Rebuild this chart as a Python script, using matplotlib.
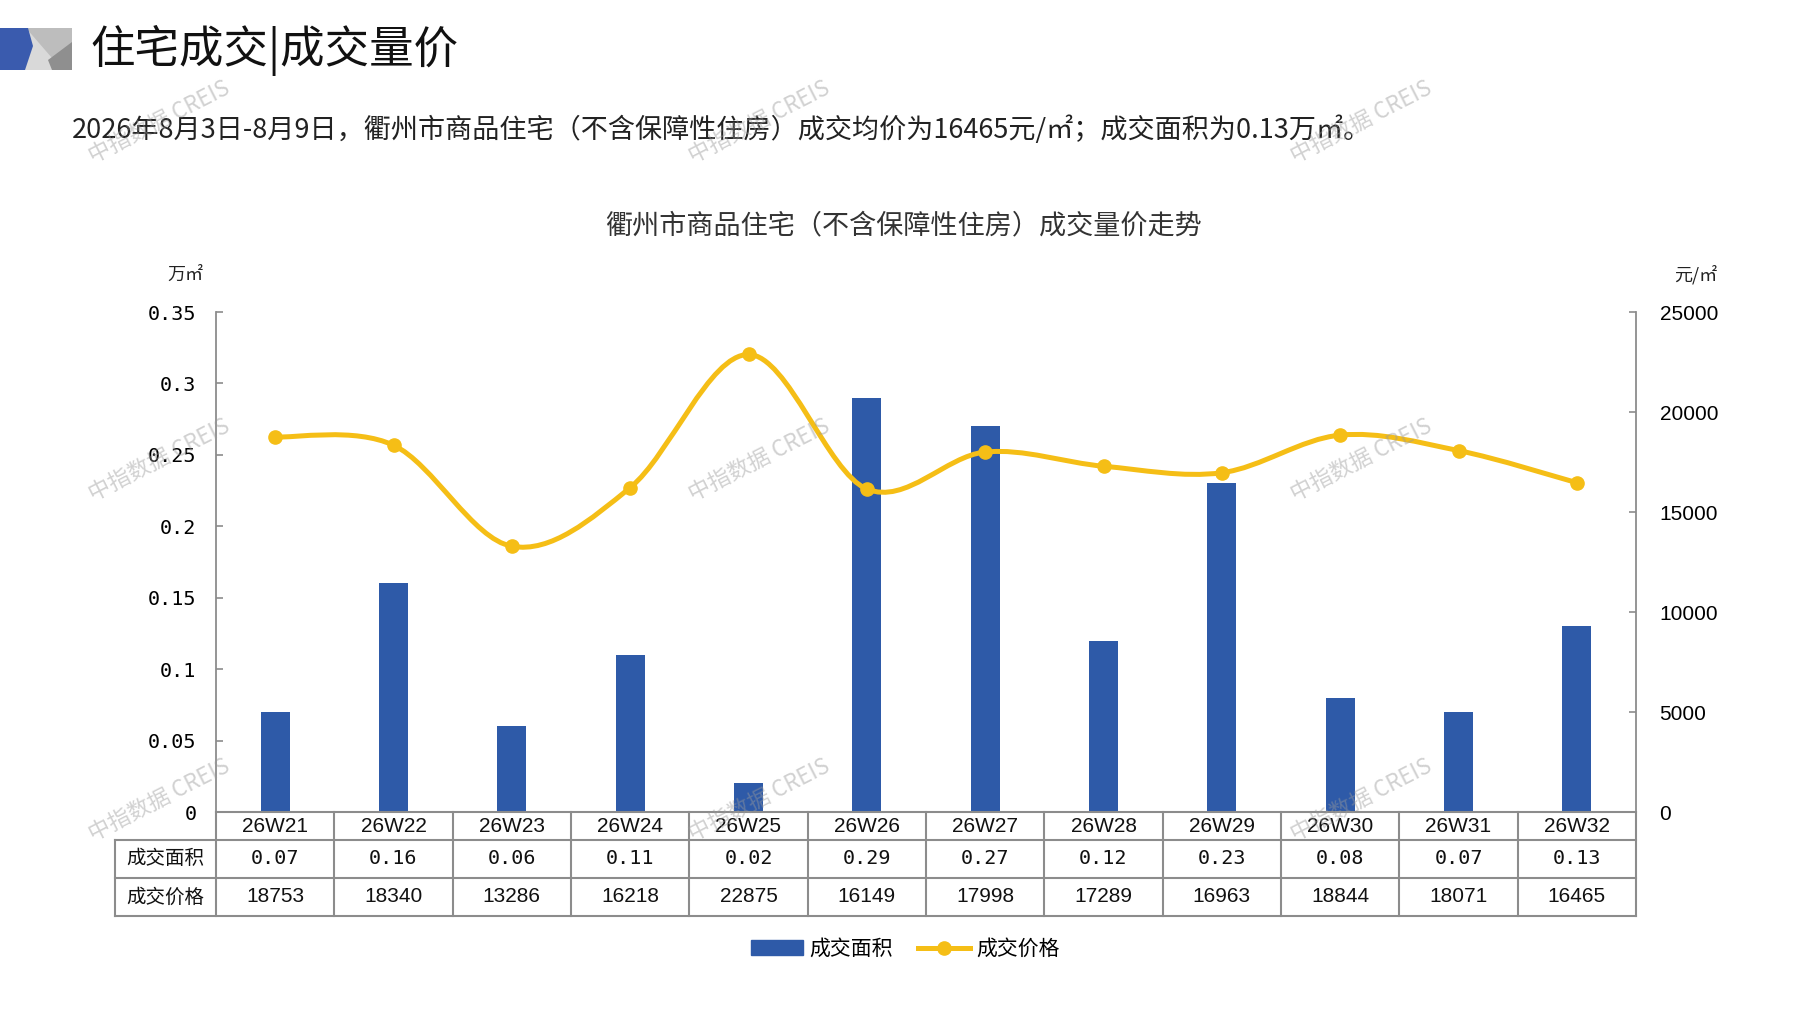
import numpy as np
import matplotlib.pyplot as plt
from matplotlib.path import Path
from matplotlib.patches import PathPatch, Polygon, Rectangle
from matplotlib.lines import Line2D

plt.rcParams['font.family'] = ['Noto Sans CJK SC', 'DejaVu Sans']

weeks = ['26W21', '26W22', '26W23', '26W24', '26W25', '26W26',
         '26W27', '26W28', '26W29', '26W30', '26W31', '26W32']
area = [0.07, 0.16, 0.06, 0.11, 0.02, 0.29, 0.27, 0.12, 0.23, 0.08, 0.07, 0.13]
price = [18753, 18340, 13286, 16218, 22875, 16149, 17998, 17289, 16963, 18844, 18071, 16465]
left_ticks = [0, 0.05, 0.1, 0.15, 0.2, 0.25, 0.3, 0.35]
right_ticks = [0, 5000, 10000, 15000, 20000, 25000]

blue = '#2E5AA8'
gold = '#F5BE16'
grid_gray = '#8C8C8C'
narrow = ['Liberation Sans Narrow', 'Liberation Sans', 'DejaVu Sans']
mono = ['DejaVu Sans Mono']

W, H = 1797, 1010
fig = plt.figure(figsize=(W / 100, H / 100), dpi=100)

# background layer in pixel units for header and free text
deco = fig.add_axes([0, 0, 1, 1], zorder=0)
deco.set_xlim(0, W)
deco.set_ylim(H, 0)
deco.axis('off')
deco.add_patch(Rectangle((0, 28), 72, 42, color='#D9D9D9', lw=0))
deco.add_patch(Polygon([(26, 28), (72, 28), (72, 46), (52, 58)], color='#BDBDBD', lw=0))
deco.add_patch(Polygon([(72, 42), (72, 70), (52, 70), (48, 60)], color='#8F8F8F', lw=0))
deco.add_patch(Polygon([(0, 28), (28, 28), (33, 46), (25, 70), (0, 70)], color='#3A5BAE', lw=0))
deco.text(90, 50, '住宅成交|成交量价', fontsize=32, va='center', ha='left', color='#111111')
deco.text(72, 130, '2026年8月3日-8月9日，衢州市商品住宅（不含保障性住房）成交均价为16465元/㎡；成交面积为0.13万㎡。',
          fontsize=19.5, va='center', ha='left', color='#222222')
deco.text(903, 226, '衢州市商品住宅（不含保障性住房）成交量价走势', fontsize=19.5,
          va='center', ha='center', color='#333333')
deco.text(185, 275, '万㎡', fontsize=13, va='center', ha='center', color='#222222')
deco.text(1696, 275, '元/㎡', fontsize=13, va='center', ha='center', color='#222222')

# main chart
x = np.arange(len(weeks))
ax = fig.add_axes([216 / W, 1 - 812 / H, 1420 / W, 500 / H], zorder=2)
ax.patch.set_alpha(0)
ax.bar(x, area, width=0.245, color=blue, zorder=2)
ax.set_xlim(-0.5, len(weeks) - 0.5)
ax.set_ylim(0, 0.35)
ax.set_yticks(left_ticks)
ax.set_yticklabels([f'{v:g}' for v in left_ticks], family=mono, fontsize=14.5)
ax.set_xticks([])
for s in ['top', 'right', 'bottom']:
    ax.spines[s].set_visible(False)
ax.spines['left'].set_color(grid_gray)
ax.spines['left'].set_linewidth(1.3)
ax.tick_params(axis='y', direction='in', length=5, width=1.2, color=grid_gray, pad=14)

ax2 = ax.twinx()
ax2.set_ylim(0, 25000)
ax2.set_yticks(right_ticks)
ax2.set_yticklabels([str(v) for v in right_ticks], family=narrow, fontsize=15)
for s in ['top', 'left', 'bottom']:
    ax2.spines[s].set_visible(False)
ax2.spines['right'].set_color(grid_gray)
ax2.spines['right'].set_linewidth(1.3)
ax2.tick_params(axis='y', direction='in', length=5, width=1.2, color=grid_gray, pad=17)

# smoothed price line (catmull-rom style bezier through the points)
px = x.astype(float)
py = np.array(price, dtype=float)
verts = [(px[0], py[0])]
codes = [Path.MOVETO]
n = len(px)
for i in range(n - 1):
    i0, i3 = max(i - 1, 0), min(i + 2, n - 1)
    c1 = (px[i] + (px[i + 1] - px[i0]) / 6, py[i] + (py[i + 1] - py[i0]) / 6)
    c2 = (px[i + 1] - (px[i3] - px[i]) / 6, py[i + 1] - (py[i3] - py[i]) / 6)
    verts += [c1, c2, (px[i + 1], py[i + 1])]
    codes += [Path.CURVE4] * 3
ax2.add_patch(PathPatch(Path(verts, codes), facecolor='none', edgecolor=gold, lw=3.6,
                        capstyle='round', joinstyle='round', zorder=3))
ax2.plot(px, py, 'o', color=gold, markersize=9.5, zorder=4)

# data table under the chart
tr = ax.get_xaxis_transform()
rows = [0, -0.056, -0.132, -0.208]
xl = -1.354
line_kw = dict(color=grid_gray, lw=1.5, transform=tr, clip_on=False)
ax.plot([-0.5, len(weeks) - 0.5], [rows[0]] * 2, **line_kw)
for r in rows[1:]:
    ax.plot([xl, len(weeks) - 0.5], [r, r], **line_kw)
for i in range(len(weeks) + 1):
    ax.plot([i - 0.5, i - 0.5], [rows[3], rows[0]], **line_kw)
ax.plot([xl, xl], [rows[3], rows[1]], **line_kw)

mid = [(rows[k] + rows[k + 1]) / 2 for k in range(3)]
for i in range(len(weeks)):
    ax.text(i, mid[0], weeks[i], transform=tr, ha='center', va='center',
            family=narrow, fontsize=15, color='#111111')
    ax.text(i, mid[1], f'{area[i]:.2f}', transform=tr, ha='center', va='center',
            family=mono, fontsize=14.5, color='#111111')
    ax.text(i, mid[2], str(price[i]), transform=tr, ha='center', va='center',
            family=narrow, fontsize=15, color='#111111')
ax.text((xl - 0.5) / 2, mid[1], '成交面积', transform=tr, ha='center', va='center',
        fontsize=14, color='#111111')
ax.text((xl - 0.5) / 2, mid[2], '成交价格', transform=tr, ha='center', va='center',
        fontsize=14, color='#111111')

# legend
handles = [Rectangle((0, 0), 1, 1, color=blue),
           Line2D([], [], color=gold, lw=3.6, marker='o', markersize=9.5)]
fig.legend(handles, ['成交面积', '成交价格'], loc='center', bbox_to_anchor=(905 / W, 1 - 949 / H),
           ncol=2, frameon=False, fontsize=15, handlelength=2.5, handletextpad=0.3,
           columnspacing=1.2)

# watermarks on top
wm = fig.add_axes([0, 0, 1, 1], zorder=5)
wm.set_xlim(0, W)
wm.set_ylim(H, 0)
wm.axis('off')
for cy in [122, 460, 800]:
    for cx in [159, 759, 1361]:
        wm.text(cx, cy, '中指数据 CREIS', rotation=27, fontsize=16, color='#9A9A9A',
                alpha=0.45, ha='center', va='center', rotation_mode='anchor')

fig.savefig('out.png', dpi=100)
